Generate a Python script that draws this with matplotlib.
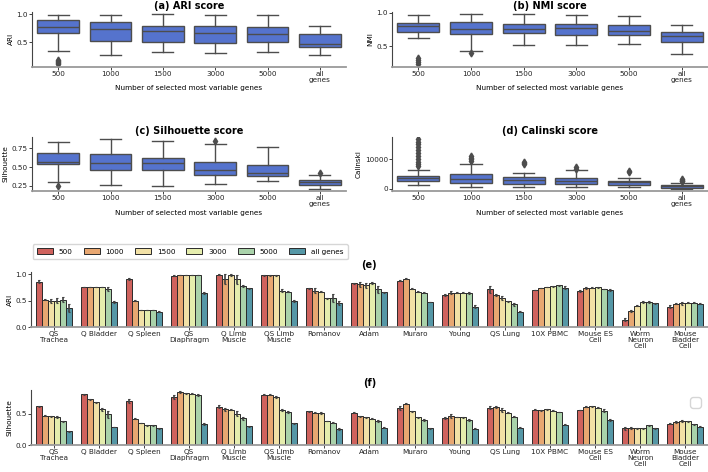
import numpy as np
import matplotlib
matplotlib.use('Agg')
import matplotlib.pyplot as plt
from matplotlib.patches import Patch
import seaborn as sns

gene_sets = ['500', '1000', '1500', '3000', '5000', 'all\ngenes']
hue_labels = ['500', '1000', '1500', '3000', '5000', 'all genes']

# box summaries: median, q1, q3, whisker ends, outliers
ari_med = [0.765, 0.735, 0.694, 0.665, 0.647, 0.47]
ari_q1 = [0.665, 0.523, 0.50, 0.49, 0.50, 0.418]
ari_q3 = [0.894, 0.865, 0.78, 0.78, 0.77, 0.647]
ari_lo = [0.34, 0.28, 0.32, 0.31, 0.32, 0.265]
ari_hi = [0.99, 0.99, 0.995, 0.98, 0.98, 0.794]
ari_out = [[0.11, 0.13, 0.15, 0.17, 0.19], [], [], [], [], []]

nmi_med = [0.81, 0.765, 0.765, 0.77, 0.73, 0.655]
nmi_q1 = [0.71, 0.68, 0.695, 0.67, 0.67, 0.565]
nmi_q3 = [0.855, 0.865, 0.83, 0.83, 0.815, 0.72]
nmi_lo = [0.62, 0.425, 0.52, 0.525, 0.535, 0.385]
nmi_hi = [0.97, 0.98, 0.98, 0.97, 0.95, 0.82]
nmi_out = [[0.235, 0.26, 0.29, 0.32], [0.40], [], [], [], []]

sil_med = [0.575, 0.56, 0.555, 0.462, 0.42, 0.299]
sil_q1 = [0.537, 0.462, 0.458, 0.396, 0.387, 0.268]
sil_q3 = [0.69, 0.67, 0.62, 0.564, 0.529, 0.33]
sil_lo = [0.30, 0.263, 0.254, 0.277, 0.31, 0.215]
sil_hi = [0.83, 0.87, 0.856, 0.808, 0.763, 0.39]
sil_out = [[0.255], [], [], [0.85], [], [0.427]]

cal_med = [3600, 3260, 2830, 2600, 2170, 870]
cal_q1 = [2700, 1960, 1740, 1520, 1200, 430]
cal_q3 = [4350, 4900, 4000, 3700, 2700, 1400]
cal_lo = [1200, 760, 650, 540, 540, 100]
cal_hi = [6400, 8370, 5430, 6300, 3800, 1960]
cal_out = [[7800, 8300, 9000, 10000, 11000, 12000, 13000, 14000, 15000, 15800, 16600],
           [9500, 10000, 10500, 11000], [8200, 8700, 9000], [6800, 7300],
           [5700, 6100], [2500, 2800, 3100, 3400]]

datasets = ['QS\nTrachea', 'Q Bladder', 'Q Spleen', 'QS\nDiaphragm', 'Q Limb\nMuscle',
            'QS Limb\nMuscle', 'Romanov', 'Adam', 'Muraro', 'Young', 'QS Lung',
            '10X PBMC', 'Mouse ES\nCell', 'Worm\nNeuron\nCell', 'Mouse\nBladder\nCell']

# mean per dataset (rows) and gene set (columns: 500 .. all genes)
ari_mean = [
    [0.86, 0.52, 0.49, 0.50, 0.52, 0.36],
    [0.755, 0.755, 0.755, 0.755, 0.72, 0.465],
    [0.91, 0.50, 0.325, 0.32, 0.325, 0.29],
    [0.97, 0.985, 0.985, 0.98, 0.98, 0.635],
    [0.99, 0.91, 0.98, 0.90, 0.78, 0.73],
    [0.975, 0.975, 0.975, 0.69, 0.67, 0.49],
    [0.73, 0.69, 0.67, 0.54, 0.55, 0.45],
    [0.83, 0.81, 0.79, 0.84, 0.71, 0.655],
    [0.875, 0.91, 0.72, 0.67, 0.65, 0.475],
    [0.605, 0.65, 0.65, 0.65, 0.64, 0.38],
    [0.71, 0.60, 0.55, 0.49, 0.43, 0.29],
    [0.70, 0.74, 0.76, 0.77, 0.79, 0.74],
    [0.68, 0.73, 0.74, 0.75, 0.72, 0.70],
    [0.14, 0.30, 0.40, 0.48, 0.48, 0.45],
    [0.38, 0.44, 0.45, 0.46, 0.46, 0.44],
]
ari_err = [
    [0.03, 0.01, 0.04, 0.05, 0.04, 0.08],
    [0.005, 0.005, 0.005, 0.005, 0.04, 0.02],
    [0.02, 0.005, 0.005, 0.005, 0.005, 0.005],
    [0.005, 0.005, 0.005, 0.005, 0.005, 0.02],
    [0.005, 0.09, 0.02, 0.09, 0.02, 0.01],
    [0.005, 0.005, 0.005, 0.02, 0.01, 0.02],
    [0.01, 0.05, 0.01, 0.01, 0.07, 0.04],
    [0.01, 0.05, 0.05, 0.02, 0.06, 0.005],
    [0.01, 0.01, 0.01, 0.005, 0.01, 0.005],
    [0.01, 0.03, 0.005, 0.01, 0.02, 0.03],
    [0.07, 0.02, 0.04, 0.01, 0.03, 0.01],
    [0.005, 0.005, 0.005, 0.005, 0.01, 0.03],
    [0.02, 0.02, 0.01, 0.01, 0.005, 0.02],
    [0.03, 0.02, 0.01, 0.02, 0.02, 0.01],
    [0.03, 0.01, 0.03, 0.01, 0.01, 0.01],
]

sil_mean = [
    [0.62, 0.47, 0.46, 0.45, 0.38, 0.22],
    [0.81, 0.73, 0.685, 0.57, 0.49, 0.29],
    [0.705, 0.42, 0.35, 0.315, 0.315, 0.27],
    [0.77, 0.85, 0.83, 0.82, 0.80, 0.34],
    [0.615, 0.57, 0.565, 0.50, 0.425, 0.30],
    [0.805, 0.805, 0.77, 0.56, 0.53, 0.35],
    [0.54, 0.52, 0.515, 0.385, 0.36, 0.255],
    [0.52, 0.46, 0.445, 0.42, 0.385, 0.28],
    [0.59, 0.66, 0.54, 0.445, 0.40, 0.265],
    [0.43, 0.47, 0.45, 0.445, 0.40, 0.26],
    [0.60, 0.61, 0.56, 0.52, 0.455, 0.28],
    [0.565, 0.555, 0.57, 0.55, 0.53, 0.325],
    [0.56, 0.615, 0.62, 0.60, 0.55, 0.40],
    [0.265, 0.27, 0.265, 0.265, 0.315, 0.27],
    [0.34, 0.37, 0.385, 0.38, 0.33, 0.295],
]
sil_err = [
    [0.01, 0.01, 0.01, 0.01, 0.01, 0.01],
    [0.01, 0.01, 0.01, 0.02, 0.05, 0.005],
    [0.03, 0.01, 0.005, 0.005, 0.005, 0.01],
    [0.03, 0.01, 0.01, 0.01, 0.02, 0.02],
    [0.02, 0.02, 0.01, 0.04, 0.02, 0.01],
    [0.01, 0.01, 0.01, 0.01, 0.02, 0.01],
    [0.005, 0.005, 0.02, 0.005, 0.01, 0.01],
    [0.01, 0.01, 0.005, 0.005, 0.01, 0.005],
    [0.03, 0.01, 0.005, 0.005, 0.02, 0.01],
    [0.02, 0.03, 0.005, 0.005, 0.01, 0.01],
    [0.03, 0.01, 0.03, 0.005, 0.01, 0.005],
    [0.01, 0.005, 0.01, 0.005, 0.005, 0.005],
    [0.005, 0.01, 0.01, 0.01, 0.02, 0.01],
    [0.02, 0.02, 0.01, 0.01, 0.01, 0.01],
    [0.005, 0.02, 0.02, 0.01, 0.01, 0.01],
]

TICK_FS = 5.2
TITLE_FS = 7
line_gray = '#4d4d4d'
box_color = sns.desaturate('royalblue', 0.75)
bar_colors = [sns.desaturate(c, 0.75) for c in sns.color_palette('Spectral', 6)]


def style_axis(ax):
    for side in ['top', 'right']:
        ax.spines[side].set_visible(False)
    ax.spines['left'].set_color('#444444')
    ax.spines['left'].set_linewidth(0.8)
    ax.spines['bottom'].set_color('#9a9a9a')
    ax.spines['bottom'].set_linewidth(1.3)
    ax.tick_params(length=2, width=0.6, pad=1, labelsize=TICK_FS, colors='#222222')


def draw_box(ax, med, q1, q3, lo, hi, out, title, ylabel, yticks, yticklabels):
    stats = []
    for i in range(len(med)):
        stats.append(dict(med=med[i], q1=q1[i], q3=q3[i],
                          whislo=lo[i], whishi=hi[i], fliers=out[i]))
    ax.bxp(stats, positions=range(len(med)), widths=0.8, patch_artist=True,
           boxprops=dict(facecolor=box_color, edgecolor=line_gray, linewidth=1.0),
           medianprops=dict(color=line_gray, linewidth=1.0),
           whiskerprops=dict(color=line_gray, linewidth=1.0),
           capprops=dict(color=line_gray, linewidth=1.0),
           flierprops=dict(marker='d', markersize=3.5, markerfacecolor=line_gray,
                           markeredgecolor=line_gray, linestyle='none'))
    ax.set_xlim(-0.5, len(med) - 0.5)
    ax.set_xticks(range(len(med)))
    ax.set_xticklabels(gene_sets, linespacing=1.0)
    ax.set_yticks(yticks)
    ax.set_yticklabels(yticklabels)
    ax.set_title(title, fontsize=TITLE_FS, fontweight='bold', pad=2)
    ax.set_ylabel(ylabel, fontsize=TICK_FS, labelpad=2)
    ax.set_xlabel('Number of selected most variable genes', fontsize=TICK_FS, labelpad=2)
    style_axis(ax)


def draw_bars(ax, means, errs, title, ylabel, yticks):
    means = np.array(means)
    errs = np.array(errs)
    n_groups, n_hue = means.shape
    w = 0.8 / n_hue
    for j in range(n_hue):
        x = np.arange(n_groups) - 0.4 + w * (j + 0.5)
        ax.bar(x, means[:, j], width=w, color=bar_colors[j],
               edgecolor='#2a2a2a', linewidth=0.7)
        ax.errorbar(x, means[:, j], yerr=errs[:, j], fmt='none', ecolor='#424242',
                    elinewidth=1.2, capsize=1.0, capthick=0.8)
    ax.set_xlim(-0.5, n_groups - 0.5)
    ax.set_xticks(range(n_groups))
    ax.set_xticklabels(datasets, linespacing=1.0)
    ax.set_yticks(yticks)
    ax.set_ylabel(ylabel, fontsize=TICK_FS, labelpad=2)
    ax.set_title(title, fontsize=TITLE_FS, fontweight='bold', pad=3)
    style_axis(ax)


fig = plt.figure(figsize=(7.08, 4.72), dpi=100)

ax_a = fig.add_axes([0.0452, 0.859, 0.4435, 0.116])
ax_b = fig.add_axes([0.5537, 0.859, 0.4463, 0.116])
ax_c = fig.add_axes([0.0452, 0.5953, 0.4435, 0.1144])
ax_d = fig.add_axes([0.5537, 0.5953, 0.4463, 0.1144])
ax_e = fig.add_axes([0.0438, 0.3072, 0.956, 0.1165])
ax_f = fig.add_axes([0.0438, 0.0572, 0.956, 0.1165])

draw_box(ax_a, ari_med, ari_q1, ari_q3, ari_lo, ari_hi, ari_out,
         '(a) ARI score', 'ARI', [0.5, 1.0], ['0.5', '1.0'])
draw_box(ax_b, nmi_med, nmi_q1, nmi_q3, nmi_lo, nmi_hi, nmi_out,
         '(b) NMI score', 'NMI', [0.5, 1.0], ['0.5', '1.0'])
draw_box(ax_c, sil_med, sil_q1, sil_q3, sil_lo, sil_hi, sil_out,
         '(c) Silhouette score', 'Silhouette', [0.25, 0.5, 0.75], ['0.25', '0.50', '0.75'])
draw_box(ax_d, cal_med, cal_q1, cal_q3, cal_lo, cal_hi, cal_out,
         '(d) Calinski score', 'Calinski', [0, 10000], ['0', '10000'])

draw_bars(ax_e, ari_mean, ari_err, '(e)', 'ARI', [0.0, 0.5, 1.0])
ax_e.set_ylim(0, 1.04)
draw_bars(ax_f, sil_mean, sil_err, '(f)', 'Silhouette', [0.0, 0.5])
ax_f.set_ylim(0, 0.88)

handles = [Patch(facecolor=bar_colors[j], edgecolor='#2a2a2a', linewidth=0.7,
                 label=hue_labels[j]) for j in range(len(hue_labels))]
fig.legend(handles=handles, loc='lower left', bbox_to_anchor=(0.046, 1 - 259 / 472),
           ncol=6, fontsize=TICK_FS, frameon=True, borderaxespad=0,
           handlelength=2.2, handleheight=0.8, columnspacing=1.55, handletextpad=0.8,
           borderpad=0.6, edgecolor='#cccccc')
ax_f.legend(handles=[], loc='upper right', frameon=True, edgecolor='#cccccc',
            borderpad=0.4)

plt.savefig('out.png', dpi=100)
